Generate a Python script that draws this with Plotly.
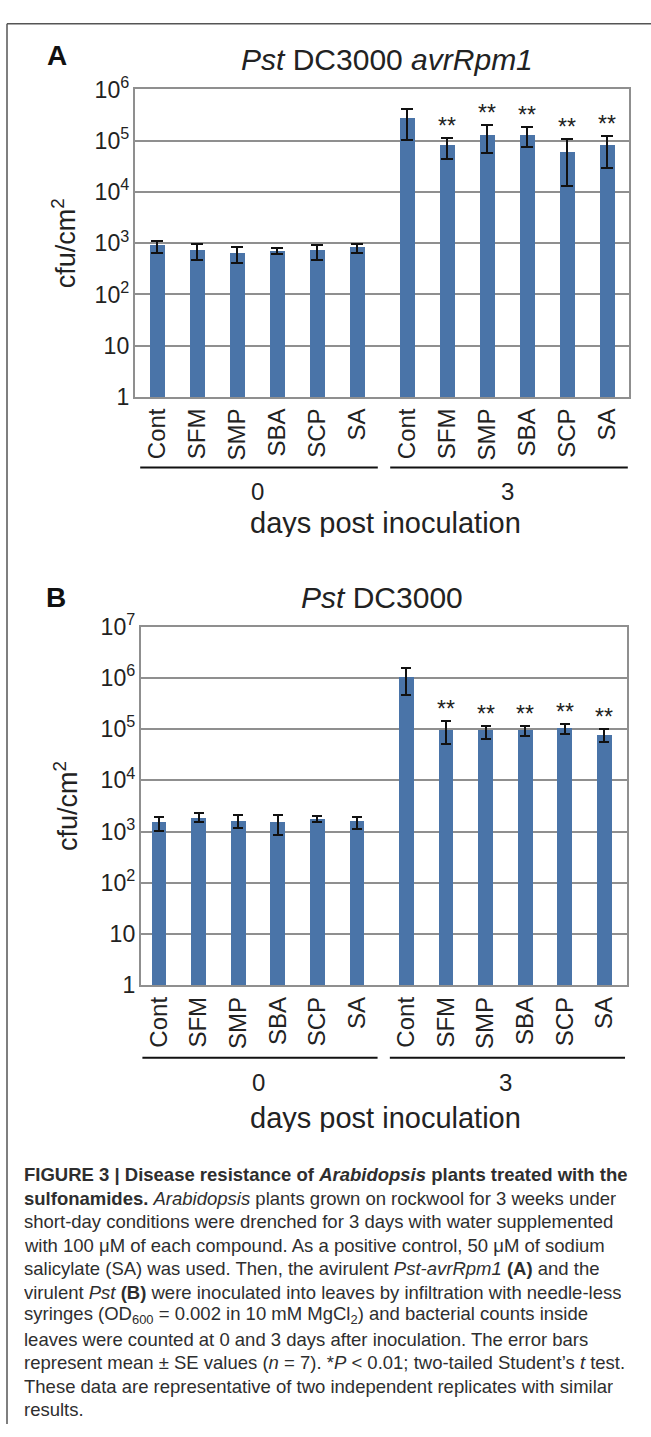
import math
import plotly.graph_objects as go

W, H = 651, 1437

# ---------------- data ----------------
categories = ["Cont", "SFM", "SMP", "SBA", "SCP", "SA"]
day_groups = ["0", "3"]

a_values = [900, 720, 620, 700, 720, 810, 270000, 80000, 128000, 128000, 60000, 80000]
a_err_plus = [220, 250, 210, 110, 185, 160, 140000, 34000, 71000, 54000, 46000, 44000]
a_err_minus = [250, 240, 210, 95, 260, 160, 165000, 37000, 70000, 54000, 47000, 51000]
a_marks = ["", "", "", "", "", "", "", "**", "**", "**", "**", "**"]

b_values = [1550, 1880, 1650, 1550, 1780, 1650, 1050000, 96000, 96000, 98000, 106000, 80000]
b_err_plus = [410, 400, 435, 535, 190, 315, 480000, 47000, 20000, 18000, 17000, 22000]
b_err_minus = [545, 370, 470, 710, 245, 520, 580000, 44000, 31500, 23500, 27000, 23000]
b_marks = ["", "", "", "", "", "", "", "**", "**", "**", "**", "**"]

# ---------------- layout helpers ----------------
FONT = "Arial, Liberation Sans, sans-serif"
BAR = "#4a74a8"
GRID = "#8f8f8f"
TXT = "#222222"
GAP = 1.25


def px(x):
    return x / W


def py(y):
    return 1 - y / H


n = len(categories)
positions = [i for i in range(n)] + [n - 1 + GAP + i for i in range(n)]

panels = [
    dict(key="", vals=a_values, ep=a_err_plus, em=a_err_minus, marks=a_marks,
         box=(135, 629, 74, 388), xr=[-0.55, 11.8], decades=6, cap=6,
         title="<i>Pst</i> DC3000 <i>avrRpm1</i>", title_xy=(387, 43),
         letter="A", letter_xy=(57, 39), ylab_x=64,
         line_y=460, grp_y=484.5, dpi_y=517),
    dict(key="2", vals=b_values, ep=b_err_plus, em=b_err_minus, marks=b_marks,
         box=(141, 627, 622.5, 989), xr=[-0.455, 11.82], decades=7, cap=5,
         title="<i>Pst</i> DC3000", title_xy=(382, 593),
         letter="B", letter_xy=(56, 593), ylab_x=66,
         line_y=1063, grp_y=1087.5, dpi_y=1124),
]

fig = go.Figure()
annotations = []
shapes = []
layout_axes = {}

for p in panels:
    k = p["key"]
    xa, ya = "x" + k, "y" + k
    left, right, top, bottom = p["box"]

    fig.add_trace(go.Bar(
        x=positions, y=p["vals"], xaxis=xa, yaxis=ya,
        width=0.375, marker=dict(color=BAR, line=dict(width=0)),
        error_y=dict(type="data", symmetric=False, array=p["ep"], arrayminus=p["em"],
                     color="#111111", thickness=2, width=p["cap"]),
        showlegend=False, hoverinfo="skip",
    ))

    layout_axes["xaxis" + k] = dict(
        domain=[px(left), px(right)], range=p["xr"], anchor=ya,
        tickmode="array", tickvals=positions, ticktext=categories * 2,
        tickangle=-90, ticks="", tickfont=dict(family=FONT, size=24, color=TXT),
        showgrid=False, zeroline=False,
        showline=True, mirror=True, linecolor=GRID, linewidth=2,
    )
    layout_axes["yaxis" + k] = dict(
        domain=[py(bottom), py(top)], type="log", range=[0, p["decades"]],
        anchor=xa, dtick=1, exponentformat="power", ticks="",
        tickfont=dict(family=FONT, size=18.5, color=TXT),
        showgrid=True, gridcolor=GRID, gridwidth=2, zeroline=False,
        showline=True, mirror=True, linecolor=GRID, linewidth=2,
    )

    # significance marks
    for xpos, v, e, m in zip(positions, p["vals"], p["ep"], p["marks"]):
        if m:
            annotations.append(dict(
                x=xpos, y=math.log10(v + e), xref=xa, yref=ya, text=m,
                showarrow=False, yanchor="bottom", yshift=-3,
                font=dict(family=FONT, size=23, color=TXT),
            ))

    # group lines and labels
    for g, label in enumerate(day_groups):
        gp = positions[g * n:(g + 1) * n]
        shapes.append(dict(type="line", xref=xa, yref="paper",
                           x0=gp[0] - 0.42, x1=gp[-1] + 0.52,
                           y0=py(p["line_y"]), y1=py(p["line_y"]),
                           line=dict(color="#111111", width=2)))
        annotations.append(dict(
            x=sum(gp) / len(gp), y=py(p["grp_y"]), xref=xa, yref="paper",
            text=label, showarrow=False, xanchor="center", yanchor="middle",
            height=22, font=dict(family=FONT, size=24, color=TXT),
        ))

    annotations.append(dict(
        x=px(385), y=py(p["dpi_y"]), xref="paper", yref="paper",
        text="days post inoculation", showarrow=False,
        xanchor="center", yanchor="middle", height=28,
        font=dict(family=FONT, size=29, color=TXT),
    ))
    annotations.append(dict(
        x=px(p["title_xy"][0]), y=py(p["title_xy"][1]), xref="paper", yref="paper",
        text=p["title"], showarrow=False, xanchor="center", yanchor="middle",
        font=dict(family=FONT, size=30, color=TXT),
    ))
    annotations.append(dict(
        x=px(p["letter_xy"][0]), y=py(p["letter_xy"][1]), xref="paper", yref="paper",
        text="<b>%s</b>" % p["letter"], showarrow=False, xanchor="center", yanchor="middle",
        font=dict(family=FONT, size=28, color="#111111"),
    ))
    annotations.append(dict(
        x=px(p["ylab_x"]), y=py((top + bottom) / 2), xref="paper", yref="paper",
        text="cfu/cm<sup>2</sup>", textangle=-90, showarrow=False,
        xanchor="center", yanchor="middle",
        font=dict(family=FONT, size=27, color=TXT),
    ))

# ---------------- caption ----------------
caption_lines = [
    "<b>FIGURE 3 | Disease resistance of <i>Arabidopsis</i> plants treated with the</b>",
    "<b>sulfonamides.</b> <i>Arabidopsis</i> plants grown on rockwool for 3 weeks under",
    "short-day conditions were drenched for 3 days with water supplemented",
    "with 100 μM of each compound. As a positive control, 50 μM of sodium",
    "salicylate (SA) was used. Then, the avirulent <i>Pst-avrRpm1</i> <b>(A)</b> and the",
    "virulent <i>Pst</i> <b>(B)</b> were inoculated into leaves by infiltration with needle-less",
    "syringes (OD<sub>600</sub> = 0.002 in 10 mM MgCl<sub>2</sub>) and bacterial counts inside",
    "leaves were counted at 0 and 3 days after inoculation. The error bars",
    "represent mean ± SE values (<i>n</i> = 7). *<i>P</i> &lt; 0.01; two-tailed Student’s <i>t</i> test.",
    "These data are representative of two independent replicates with similar",
    "results.",
]
for i, line in enumerate(caption_lines):
    annotations.append(dict(
        x=px(22), y=py(1181.7 + 24 * i), xref="paper", yref="paper",
        text=line, showarrow=False, xanchor="left", yanchor="middle", height=22,
        font=dict(family=FONT, size=18.5, color="#2e2e2e"),
    ))

# outer frame (top and left edges)
shapes.append(dict(type="line", xref="paper", yref="paper",
                   x0=px(7), x1=1, y0=py(7), y1=py(7),
                   line=dict(color="#555555", width=1.5)))
shapes.append(dict(type="line", xref="paper", yref="paper",
                   x0=px(7), x1=px(7), y0=py(7), y1=0,
                   line=dict(color="#555555", width=1.5)))

fig.update_layout(
    width=W, height=H, margin=dict(l=0, r=0, t=0, b=0),
    paper_bgcolor="white", plot_bgcolor="white",
    bargap=0, annotations=annotations, shapes=shapes,
    font=dict(family=FONT, color=TXT),
    **layout_axes,
)

fig.write_html("out.html", post_script="document.body.style.margin='0';")
